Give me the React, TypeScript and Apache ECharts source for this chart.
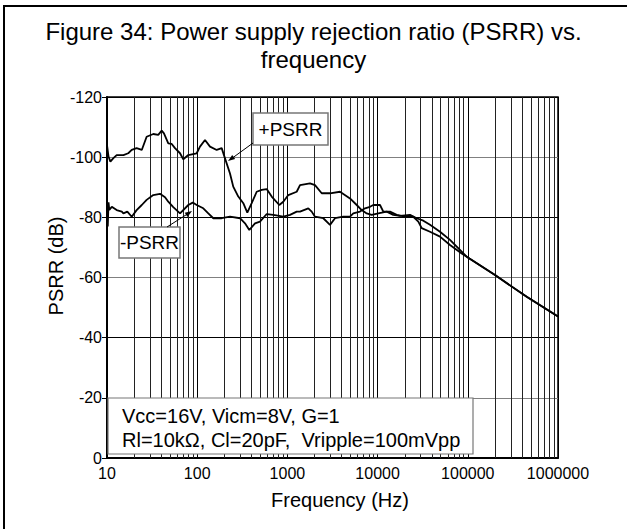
import React, { useEffect, useRef } from 'react';
import * as echarts from 'echarts';

const FONT = "'Liberation Sans', Arial, Helvetica, sans-serif";

// +PSRR curve (frequency in Hz, PSRR in dB)
const freqPlus = [
  10, 10.4, 10.9, 11.7, 12.8, 15.2, 17.2, 18.8, 21.3, 24.3, 27.5, 32.6, 37.0, 40.4, 42.8, 47.8,
  52.2, 56.7, 64.5, 70.1, 79.7, 98.7, 107.4, 122, 138.7, 164.5, 186.9, 203.3, 231, 251, 285.6,
  324.4, 359.4, 402, 456.6, 519, 589.5, 669.8, 813, 900.7, 1023, 1268, 1380, 1781, 2023, 2401,
  2967, 3829, 4943, 5867, 6663, 7573, 8603, 10180, 12620, 14930, 17718, 22870, 27130, 32120,
  38100, 49180, 63480, 85590, 97240, 200300, 449800, 1000000,
];
const psrrPlus = [
  -104.0, -100.2, -98.5, -99.6, -100.7, -100.7, -101.3, -102.4, -103.0, -102.4, -106.8, -107.7,
  -107.4, -108.8, -107.9, -104.6, -104.4, -103.0, -101.3, -99.3, -100.7, -101.3, -103.5, -105.7,
  -103.5, -102.4, -103.0, -99.6, -94.6, -90.2, -86.9, -84.7, -81.6, -84.7, -88.5, -89.1, -89.4,
  -86.9, -84.1, -85.2, -87.4, -88.5, -90.7, -91.3, -90.7, -88.0, -88.0, -88.5, -86.3, -84.1,
  -82.4, -81.3, -80.8, -81.3, -81.9, -80.8, -80.5, -80.8, -79.7, -78.9, -77.5, -75.2, -72.5,
  -68.6, -66.9, -60.8, -53.6, -47.0,
];

// -PSRR curve (frequency in Hz, PSRR in dB)
const freqMinus = [
  10, 10.2, 10.4, 10.6, 11.3, 12.8, 14.6, 15.2, 16.8, 18.8, 21.3, 24.3, 27.5, 32.6, 38.7, 44.0,
  47.8, 54.3, 64.5, 79.7, 89.2, 98.7, 116.8, 132.8, 150.8, 186.9, 231, 298.2, 338.8, 378.1,
  437.3, 496.8, 589.5, 697.9, 900.7, 1069, 1268, 1380, 1705, 1859, 2023, 2500, 2967, 3372, 4166,
  4943, 5378, 6381, 7251, 8235, 8961, 10630, 11570, 13730, 16290, 20130, 24880, 28270, 30830,
  38100, 49180, 63480, 85590, 97240, 200300, 449800, 1000000,
];
const psrrMinus = [
  -84.1, -77.0, -85.0, -82.5, -83.5, -82.4, -81.9, -81.3, -81.9, -80.2, -82.4, -84.1, -85.8,
  -87.4, -87.8, -86.7, -85.2, -83.4, -81.3, -84.1, -84.9, -84.1, -83.0, -81.3, -79.7, -79.7,
  -80.2, -79.7, -78.0, -75.8, -78.0, -78.6, -81.1, -80.8, -80.2, -80.8, -81.9, -81.9, -83.0,
  -81.9, -80.2, -79.7, -77.5, -79.7, -80.2, -80.2, -81.3, -81.9, -83.0, -83.5, -84.1, -84.1,
  -81.9, -81.9, -80.8, -80.2, -80.2, -78.6, -76.4, -75.2, -73.6, -70.8, -68.0, -66.9, -60.8,
  -53.6, -47.0,
];

// axis ticks
const xDecades = [10, 100, 1000, 10000, 100000];
const xMinorMultipliers = [2, 3, 4, 5, 6, 7, 8, 9];
const yLabelValues = [-120, -100, -80, -60, -40, -20, 0];

const xMinorGrid: number[] = [];
xDecades.forEach((d) => xMinorMultipliers.forEach((m) => xMinorGrid.push(d * m)));

export default function App() {
  const ref = useRef<HTMLDivElement>(null);

  useEffect(() => {
    if (!ref.current) return;
    const chart = echarts.init(ref.current, undefined, { renderer: 'svg' });

    const arrowHead = (tx: number, ty: number, fx: number, fy: number) => {
      const dx = tx - fx;
      const dy = ty - fy;
      const len = Math.sqrt(dx * dx + dy * dy);
      const ux = dx / len;
      const uy = dy / len;
      const bx = tx - ux * 7;
      const by = ty - uy * 7;
      const px = -uy * 2.5;
      const py = ux * 2.5;
      return [
        [tx, ty],
        [bx + px, by + py],
        [bx - px, by - py],
      ];
    };

    const option: any = {
      animation: false,
      backgroundColor: '#fff',
      title: {
        text: 'Figure 34: Power supply rejection ratio (PSRR) vs.\nfrequency',
        left: 'center',
        top: 12,
        textStyle: {
          fontFamily: FONT,
          fontSize: 24,
          fontWeight: 'normal',
          color: '#000',
          lineHeight: 28,
        },
      },
      grid: {
        left: 107,
        right: 69,
        top: 97,
        bottom: 71,
        show: true,
        borderColor: '#000',
        borderWidth: 1.5,
        backgroundColor: 'transparent',
      },
      xAxis: {
        type: 'log',
        logBase: 10,
        min: 10,
        max: 1000000,
        axisLine: { show: true, lineStyle: { color: '#000', width: 2 } },
        axisTick: { show: false },
        axisLabel: {
          interval: 0,
          formatter: (v: number) => String(Math.round(v)),
          color: '#000',
          fontSize: 16,
          fontFamily: FONT,
          margin: 7,
        },
        splitLine: { show: true, lineStyle: { color: '#000', width: 1 } },
      },
      yAxis: {
        type: 'value',
        inverse: true,
        min: -120,
        max: 0,
        interval: 10,
        axisLine: { show: true, lineStyle: { color: '#000', width: 2 } },
        axisTick: {
          show: true,
          length: 5,
          customValues: yLabelValues,
          lineStyle: { color: '#000', width: 1 },
        },
        axisLabel: {
          formatter: (v: number) => (yLabelValues.indexOf(v) >= 0 ? String(v) : ''),
          color: '#000',
          fontSize: 16,
          fontFamily: FONT,
          margin: 5,
        },
        splitLine: { show: true, lineStyle: { color: ['#000', '#808080'], width: 1 } },
      },
      series: [
        {
          type: 'line',
          data: [],
          z: 1,
          silent: true,
          markLine: {
            silent: true,
            symbol: ['none', 'none'],
            label: { show: false },
            lineStyle: { color: '#222', width: 1, type: 'solid' },
            emphasis: { disabled: true },
            data: xMinorGrid.map((v) => ({ xAxis: v })),
          },
        },
        {
          type: 'line',
          name: '+PSRR',
          data: freqPlus.map((f, i) => [f, psrrPlus[i]]),
          showSymbol: false,
          symbol: 'none',
          z: 5,
          lineStyle: { color: '#000', width: 1.8 },
        },
        {
          type: 'line',
          name: '-PSRR',
          data: freqMinus.map((f, i) => [f, psrrMinus[i]]),
          showSymbol: false,
          symbol: 'none',
          z: 5,
          lineStyle: { color: '#000', width: 1.8 },
        },
      ],
      graphic: [
        // outer frame
        { type: 'line', z: 100, shape: { x1: 3, y1: 6, x2: 627, y2: 6 }, style: { stroke: '#000', lineWidth: 2 } },
        { type: 'line', z: 100, shape: { x1: 4, y1: 5, x2: 4, y2: 529 }, style: { stroke: '#000', lineWidth: 2 } },
        // axis names
        {
          type: 'text', z: 100, x: 56, y: 266, rotation: Math.PI / 2,
          style: { text: 'PSRR (dB)', fontSize: 20, fontFamily: FONT, fill: '#000', align: 'center', verticalAlign: 'middle' },
        },
        {
          type: 'text', z: 100, x: 340, y: 500,
          style: { text: 'Frequency (Hz)', fontSize: 20, fontFamily: FONT, fill: '#000', align: 'center', verticalAlign: 'middle' },
        },
        // +PSRR label
        { type: 'rect', z: 100, shape: { x: 253, y: 113, width: 75, height: 32 }, style: { fill: '#fff', stroke: '#777', lineWidth: 1.5 } },
        {
          type: 'text', z: 101, x: 290.5, y: 129,
          style: { text: '+PSRR', fontSize: 19, fontFamily: FONT, fill: '#000', align: 'center', verticalAlign: 'middle' },
        },
        { type: 'line', z: 100, shape: { x1: 253, y1: 143, x2: 231, y2: 159 }, style: { stroke: '#000', lineWidth: 1 } },
        { type: 'polygon', z: 100, shape: { points: arrowHead(228, 161, 253, 143) }, style: { fill: '#000' } },
        // -PSRR label
        { type: 'rect', z: 100, shape: { x: 119, y: 227, width: 61, height: 31 }, style: { fill: '#fff', stroke: '#777', lineWidth: 1.5 } },
        {
          type: 'text', z: 101, x: 149.5, y: 242.5,
          style: { text: '-PSRR', fontSize: 19, fontFamily: FONT, fill: '#000', align: 'center', verticalAlign: 'middle' },
        },
        { type: 'line', z: 100, shape: { x1: 167, y1: 227, x2: 189, y2: 213 }, style: { stroke: '#000', lineWidth: 1 } },
        { type: 'polygon', z: 100, shape: { points: arrowHead(192, 211, 167, 227) }, style: { fill: '#000' } },
        // conditions box
        { type: 'rect', z: 100, shape: { x: 108, y: 398, width: 365, height: 56 }, style: { fill: '#fff', stroke: '#777', lineWidth: 1.2 } },
        {
          type: 'text', z: 101, x: 122, y: 416,
          style: { text: 'Vcc=16V, Vicm=8V, G=1', fontSize: 20, fontFamily: FONT, fill: '#000', align: 'left', verticalAlign: 'middle' },
        },
        {
          type: 'text', z: 101, x: 122, y: 440,
          style: { text: 'Rl=10kΩ, Cl=20pF,  Vripple=100mVpp', fontSize: 20, fontFamily: FONT, fill: '#000', align: 'left', verticalAlign: 'middle' },
        },
      ],
    };

    chart.setOption(option);
    return () => chart.dispose();
  }, []);

  return (
    <div
      ref={ref}
      style={{ position: 'fixed', left: 0, top: 0, width: 627, height: 529, background: '#fff' }}
    />
  );
}
